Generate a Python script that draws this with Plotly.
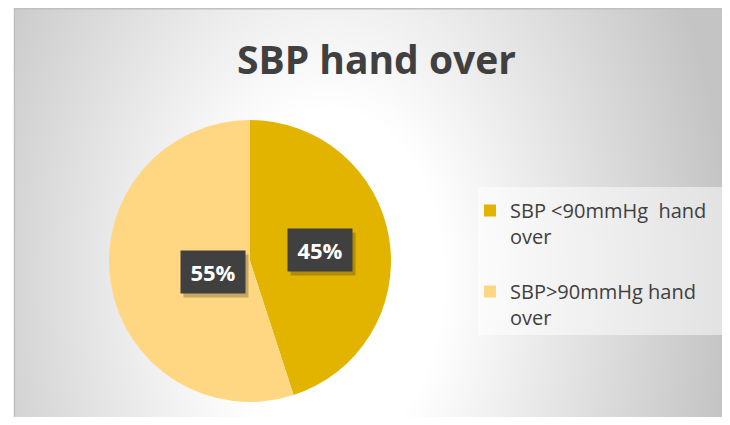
import base64
import math
import plotly.graph_objects as go

# ---- data ----
categories = ["SBP <90mmHg\u00a0\u00a0hand<br>over<br><span style='font-size:4px'>\u00a0</span>",
              "SBP>90mmHg hand<br>over<br><span style='font-size:4px'>\u00a0</span>"]
values = [45, 55]
slice_colors = ["#E2B400", "#FFD783"]
title_text = "SBP hand over"

# figure sized to fit the page inside the default 8px body margin
W, H = 714, 409
OFF = 8  # page px -> figure px offset


def px(xp):
    return (xp - OFF) / W


def py(yp):
    return 1 - (yp - OFF) / H


# ---- background (radial gradient panel) ----
gcx, gcy = 330 - OFF, 280 - OFF
svg = f"""<svg xmlns='http://www.w3.org/2000/svg' width='{W}' height='{H}' viewBox='0 0 {W} {H}' preserveAspectRatio='none'>
<defs>
<radialGradient id='g' gradientUnits='userSpaceOnUse' cx='{gcx}' cy='{gcy}' r='400'
 gradientTransform='translate({gcx} {gcy}) scale(1 1.5) translate({-gcx} {-gcy})'>
<stop offset='0.28' stop-color='#FFFFFF'/>
<stop offset='1' stop-color='#C4C4C4'/>
</radialGradient>
</defs>
<rect x='0' y='0' width='{W}' height='{H}' fill='#FFFFFF'/>
<rect x='{14.5 - OFF}' y='0.75' width='{W + 20}' height='{H + 20}' fill='url(#g)' stroke='#BFBFBF' stroke-width='1.5'/>
</svg>"""
bg_uri = "data:image/svg+xml;base64," + base64.b64encode(svg.encode()).decode()

# pie placement (page pixels)
pcx, pcy, pr = 250, 261, 141
dom_x = [px(pcx - pr), px(pcx + pr)]
dom_y = [py(pcy + pr), py(pcy - pr)]

fig = go.Figure()
fig.add_trace(go.Pie(
    labels=categories,
    values=values,
    sort=False,
    direction="clockwise",
    rotation=0,
    marker=dict(colors=slice_colors, line=dict(width=0)),
    textinfo="none",
    domain=dict(x=dom_x, y=dom_y),
    hoverinfo="percent",
))

# percentage labels in dark boxes, placed at each slice's mid-angle, half radius
total = sum(values)
cum = 0
annotations = []
for v in values:
    frac = v / total
    mid = (cum + frac / 2) * 2 * math.pi
    cum += frac
    ax = px(pcx + 0.5 * pr * math.sin(mid))
    ay = py(pcy - 0.5 * pr * math.cos(mid))
    pct = f"{round(frac * 100)}%"
    annotations.append(dict(x=ax, y=ay, xref="paper", yref="paper", text=" ",
                            showarrow=False, width=64, height=42, borderpad=0,
                            bgcolor="rgba(0,0,0,0.22)", xshift=3, yshift=-4))
    annotations.append(dict(x=ax, y=ay, xref="paper", yref="paper", text=f"<b>{pct}</b>",
                            showarrow=False, width=64, height=42, borderpad=0,
                            bgcolor="#404040",
                            font=dict(family="Open Sans", size=22, color="#FFFFFF")))

fig.update_layout(
    width=W, height=H,
    margin=dict(l=0, r=0, t=0, b=0),
    paper_bgcolor="#FFFFFF",
    plot_bgcolor="rgba(0,0,0,0)",
    images=[dict(source=bg_uri, xref="paper", yref="paper", x=0, y=1,
                 sizex=1, sizey=1, xanchor="left", yanchor="top",
                 sizing="stretch", layer="below")],
    title=dict(text=f"<b>{title_text}</b>", x=px(376.5), xanchor="center",
               y=py(60), yanchor="middle", yref="container",
               font=dict(family="Open Sans", size=39, color="#404040")),
    shapes=[dict(type="rect", xref="paper", yref="paper",
                 x0=px(478), x1=px(724), y0=py(335), y1=py(187),
                 fillcolor="rgba(255,255,255,0.5)", line=dict(width=0), layer="below")],
    legend=dict(x=px(470), y=py(191), xanchor="left", yanchor="top",
                bgcolor="rgba(0,0,0,0)", valign="top",
                font=dict(family="Open Sans", size=20, color="#404040")),
    annotations=annotations,
)

fig.write_html("out.html")
